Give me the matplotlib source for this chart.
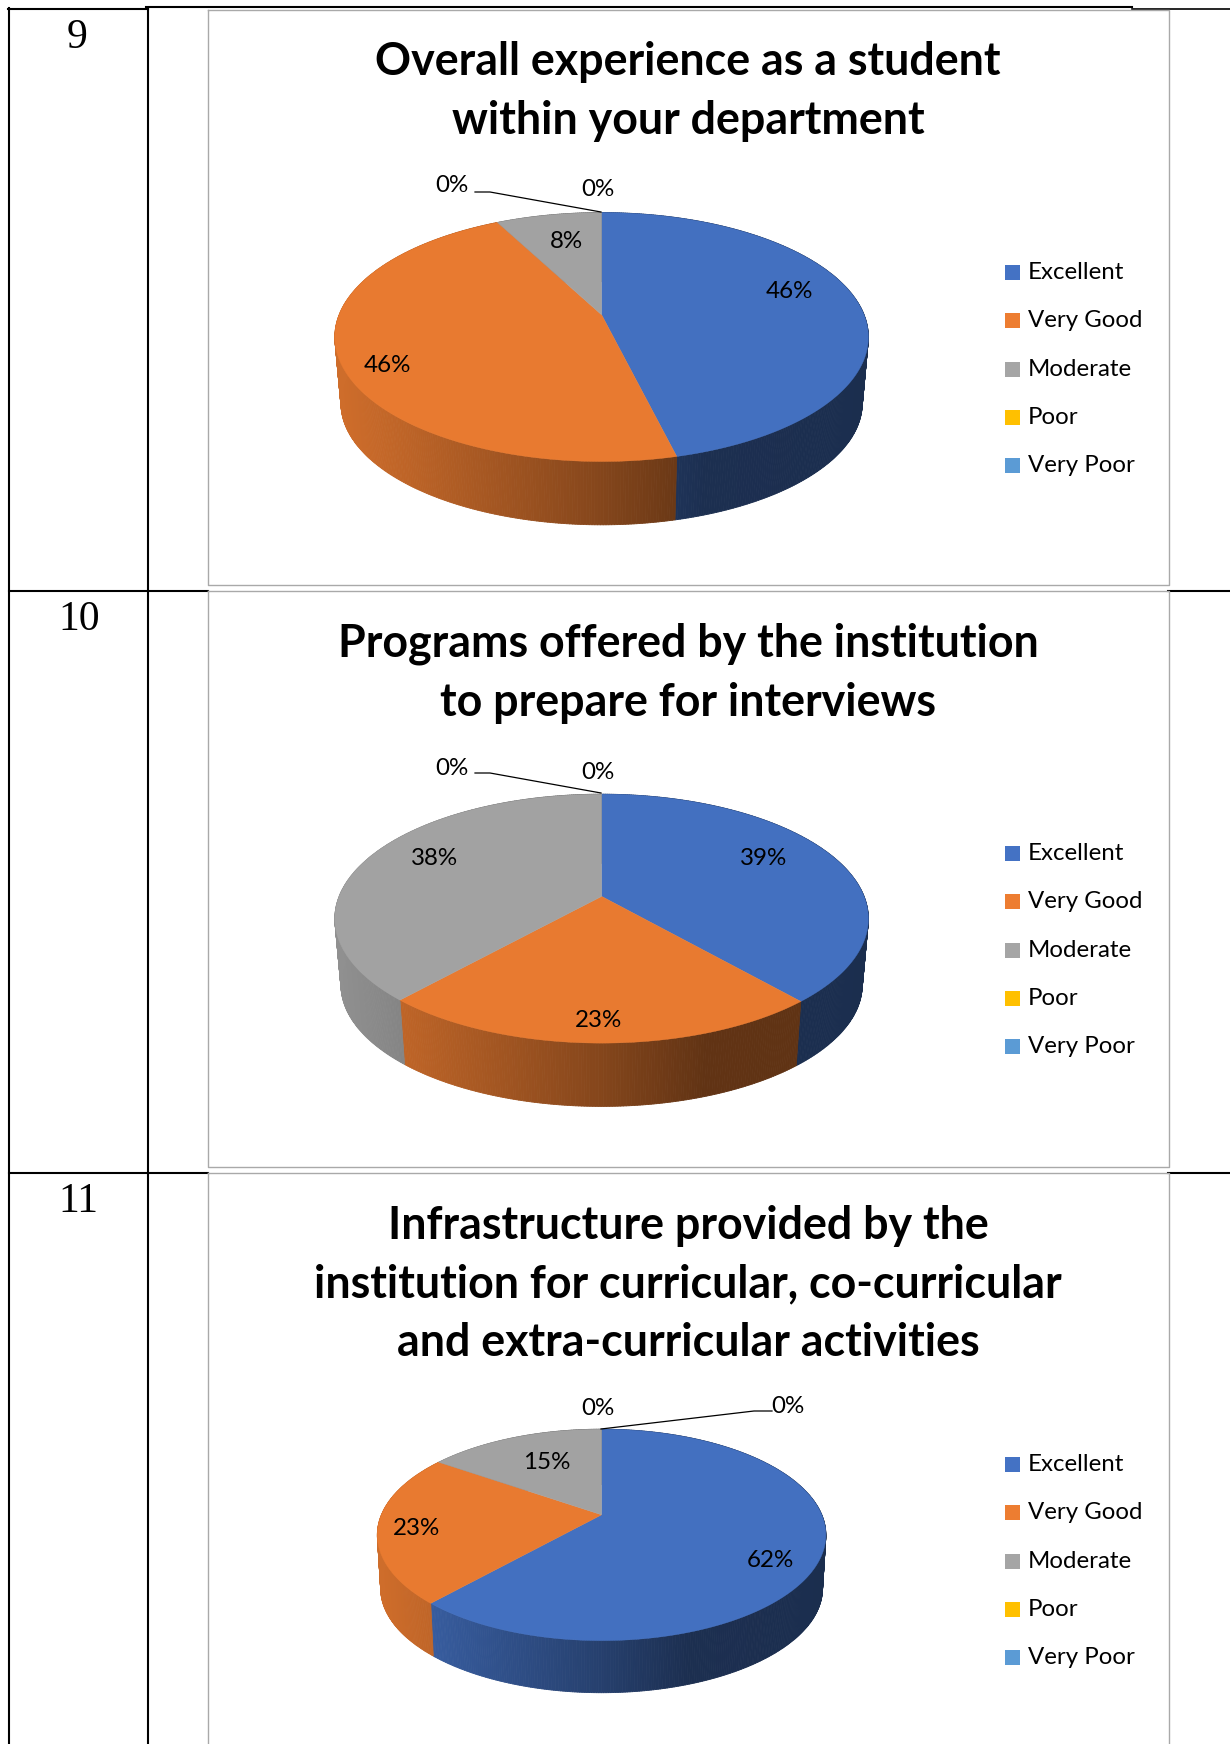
import numpy as np
import matplotlib
matplotlib.use("Agg")
import matplotlib.pyplot as plt
from matplotlib.collections import PolyCollection

plt.rcParams['font.family'] = ['Lato', 'DejaVu Sans']

categories = ["Excellent", "Very Good", "Moderate", "Poor", "Very Poor"]
colors = ["#4472C4", "#ED7D31", "#A5A5A5", "#FFC000", "#5B9BD5"]

row_numbers = ["9", "10", "11"]
titles = [
	"Overall experience as a student\nwithin your department",
	"Programs offered by the institution\nto prepare for interviews",
	"Infrastructure provided by the\ninstitution for curricular, co-curricular\nand extra-curricular activities",
]

# printed labels are rounded, slice edges in the picture give the decimals
values_9 = [46.2, 46.2, 7.6, 0, 0]
values_10 = [38.6, 23.0, 38.4, 0, 0]
values_11 = [61.6, 23.1, 15.3, 0, 0]

W, H = 1230, 1744
GRID = "#a9a9a9"


def project(theta, cx, cy, R, A, k):
	# perspective view of a flat circle, far side shrinks a little
	s, c = np.sin(theta), np.cos(theta)
	w = 1 + k * c
	return cx + R * s / w, cy - A * c / w


def shade(x):
	# side wall gets darker from left to right
	return np.interp(x, [-1, -0.75, 0, 0.4, 1], [0.87, 0.8, 0.56, 0.41, 0.40])


def draw_pie(ax, values, cx, cy, R, A, k, drop, shrink):
	fracs = np.array(values) / sum(values)
	edges = np.concatenate([[0], np.cumsum(fracs)]) * 2 * np.pi

	strips = []
	strip_colors = []
	for i in range(len(values)):
		if fracs[i] == 0:
			continue
		n = max(int(fracs[i] * 700), 2)
		t = np.linspace(edges[i], edges[i + 1], n + 1)
		xt, yt = project(t, cx, cy, R, A, k)
		xb, yb = project(t, cx, cy + drop, R * shrink, A * shrink, k)
		base = np.array(matplotlib.colors.to_rgb(colors[i]))
		for j in range(n):
			strips.append([(xt[j], yt[j]), (xt[j + 1], yt[j + 1]), (xb[j + 1], yb[j + 1]), (xb[j], yb[j])])
			strip_colors.append(base * shade((xt[j] - cx) / R))
	ax.add_collection(PolyCollection(strips, facecolors=strip_colors, edgecolors="face", linewidths=0.6, zorder=2))

	for i in range(len(values)):
		if fracs[i] == 0:
			continue
		t = np.linspace(edges[i], edges[i + 1], 300)
		x, y = project(t, cx, cy, R, A, k)
		face = np.array(matplotlib.colors.to_rgb(colors[i])) * 0.98
		ax.fill(np.r_[cx, x], np.r_[cy, y], color=face, lw=0.3, zorder=3)


fig = plt.figure(figsize=(W / 100, H / 100), dpi=100)
ax = fig.add_axes([0, 0, 1, 1])
ax.set_xlim(0, W)
ax.set_ylim(H, 0)
ax.axis("off")

# table lines
ax.plot([9, 9], [8, H], color="black", lw=1.5, zorder=1)
ax.plot([148, 148], [8, H], color="black", lw=1.5, zorder=1)
ax.plot([8, 148], [9, 9], color="black", lw=1.5, zorder=1)
ax.plot([146, 1132], [7.5, 7.5], color="black", lw=1.5, zorder=1)
ax.plot([1132, W], [9, 9], color="black", lw=1.2, zorder=1)
for y in [591.5, 1173]:
	ax.plot([9, 208], [y, y], color="black", lw=1.5, zorder=1)
	ax.plot([1168, W], [y, y], color="black", lw=1.5, zorder=1)

# chart frames
frame_tops = [10, 591.5, 1173]
frame_bottoms = [585, 1167, H + 5]
for top, bottom in zip(frame_tops, frame_bottoms):
	ax.plot([208, 1168.5, 1168.5, 208, 208], [top, top, bottom, bottom, top], color=GRID, lw=1.0, zorder=1)

number_pos = [(77, 38), (79, 620), (78, 1202)]
for label, (x, y) in zip(row_numbers, number_pos):
	ax.text(x, y, label, ha="center", va="center", fontsize=30, family="Liberation Serif")

title_pos = [(688, 91.5), (688, 673.5), (688, 1284.5)]
for label, (x, y) in zip(titles, title_pos):
	ax.text(x, y, label, ha="center", va="center", fontsize=32.2, fontweight="bold", linespacing=1.49, color="black")

draw_pie(ax, values_9, 601.6, 314.8, 262.5, 120.5, 0.1786, 66.7, 0.977)
draw_pie(ax, values_10, 601.6, 896.4, 262.5, 120.5, 0.1786, 66.7, 0.977)
draw_pie(ax, values_11, 601.6, 1514.8, 220.2, 101.9, 0.19, 54, 0.985)

# data labels, same order as the categories
pct_pos = [
	[(789, 291), (387, 366), (566, 242), (598, 190), (452, 186)],
	[(764, 858), (599, 1020), (435, 858), (598, 772), (452, 768)],
	[(770, 1560), (417, 1528), (547, 1462), (598, 1408), (788, 1406)],
]
for values, positions in zip([values_9, values_10, values_11], pct_pos):
	for v, (x, y) in zip(values, positions):
		ax.text(x, y, f"{round(v)}%", ha="center", va="center", fontsize=17.4, color="black", zorder=5)

# leader lines for the two 0% slices
leader_lines = [
	([475, 490, 601], [192, 192, 212]),
	([475, 490, 601], [773, 773, 793]),
	([772, 754, 601], [1411, 1411, 1429]),
]
for xs, ys in leader_lines:
	ax.plot(xs, ys, color="black", lw=0.9, zorder=4)

# legends
legend_tops = [272.5, 853.5, 1464.5]
for top in legend_tops:
	for i, name in enumerate(categories):
		y = top + i * 48.3
		ax.fill([1005, 1020, 1020, 1005], [y - 7.5, y - 7.5, y + 7.5, y + 7.5], color=colors[i], lw=0, zorder=3)
		ax.text(1028, y, name, ha="left", va="center", fontsize=17.3, color="black")

fig.savefig("out.png", dpi=100)
